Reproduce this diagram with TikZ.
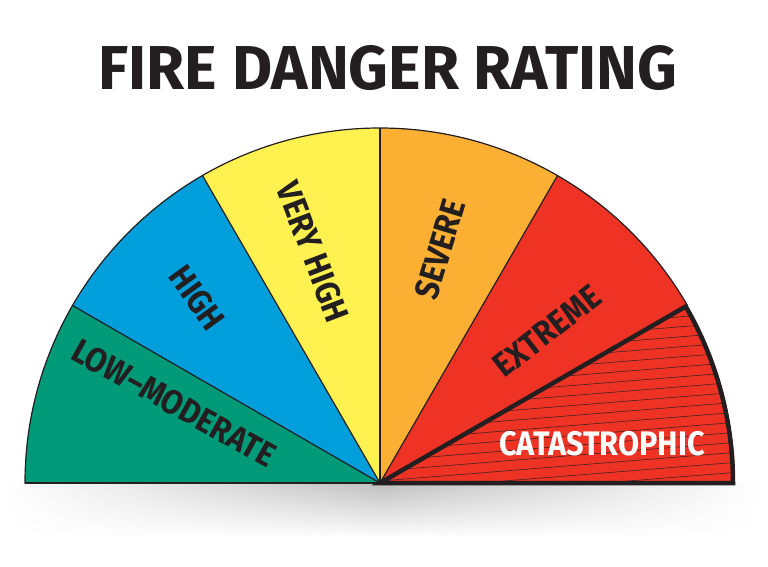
\documentclass[tikz,border=0pt]{standalone}
\usepackage{fontspec}
\setmainfont{Fira Sans}
\usetikzlibrary{fadings}
\definecolor{cgreen}{RGB}{0,154,120}
\definecolor{cblue}{RGB}{0,158,219}
\definecolor{cyellow}{RGB}{255,241,80}
\definecolor{corange}{RGB}{251,176,52}
\definecolor{cred}{RGB}{238,50,36}
\definecolor{cink}{RGB}{35,31,32}
\tikzfading[name=fadesides, left color=transparent!100, right color=transparent!100, middle color=transparent!0]
\tikzset{
  wedgeline/.style={draw=cink, line width=1.2pt},
  lbl/.style={font=\bfseries\fontsize{34}{34}\selectfont, text=cink, inner sep=0pt},
}
\newcommand{\sq}[1]{\scalebox{0.9}[1]{#1}}
\begin{document}
\begin{tikzpicture}[x=1pt,y=1pt]
\useasboundingbox (0,0) rectangle (768,566);
\coordinate (O) at (380,83);
% shadow
\shade[top color=black!25, bottom color=white, path fading=fadesides] (5,83) rectangle (760,28);
% wedges
\fill[cgreen]  (O) -- ++(180:355) arc (180:150:355) -- cycle;
\fill[cblue]   (O) -- ++(150:355) arc (150:120:355) -- cycle;
\fill[cyellow] (O) -- ++(120:355) arc (120:90:355) -- cycle;
\fill[corange] (O) -- ++(90:355) arc (90:60:355) -- cycle;
\fill[cred]    (O) -- ++(60:355) arc (60:30:355) -- cycle;
\fill[cred]    (O) -- ++(30:355) arc (30:0:355) -- cycle;
% hatch
\begin{scope}
\clip (O) -- ++(30:355) arc (30:0:355) -- cycle;
\foreach \yy in {45,55,...,265}{
  \draw[cink!85!cred, line width=0.6pt] (380,\yy) -- (740,\yy+29);
}
\end{scope}
% outlines
\draw[wedgeline] (O) -- ++(180:355) arc (180:30:355);
\draw[wedgeline] (O) -- (25,83);
\foreach \a in {150,120,90,60}{\draw[wedgeline] (O) -- ++(\a:355);}
\draw[cink, line width=4.5pt, line join=miter] (O) -- ++(30:353) arc (30:0:353) -- cycle;
% labels
\node[font=\bfseries\fontsize{62}{62}\selectfont, text=cink, anchor=base, inner sep=0pt] (title) at (388,476) {\scalebox{0.995}[1]{FIRE DANGER RATING}};
\node[lbl, rotate=-29] (low) at (174,163) {\sq{LOW–MODERATE}};
\node[lbl, rotate=-54] (high) at (197,268) {\sq{HIGH}};
\node[lbl, rotate=-69] (vhigh) at (313,314) {\sq{VERY HIGH}};
\node[lbl, rotate=73] (severe) at (440,317) {\sq{SEVERE}};
\node[lbl, rotate=38] (extreme) at (547,235) {\sq{EXTREME}};
\node[lbl, text=white] (cat) at (602,122) {\sq{CATASTROPHIC}};
\end{tikzpicture}
\end{document}
